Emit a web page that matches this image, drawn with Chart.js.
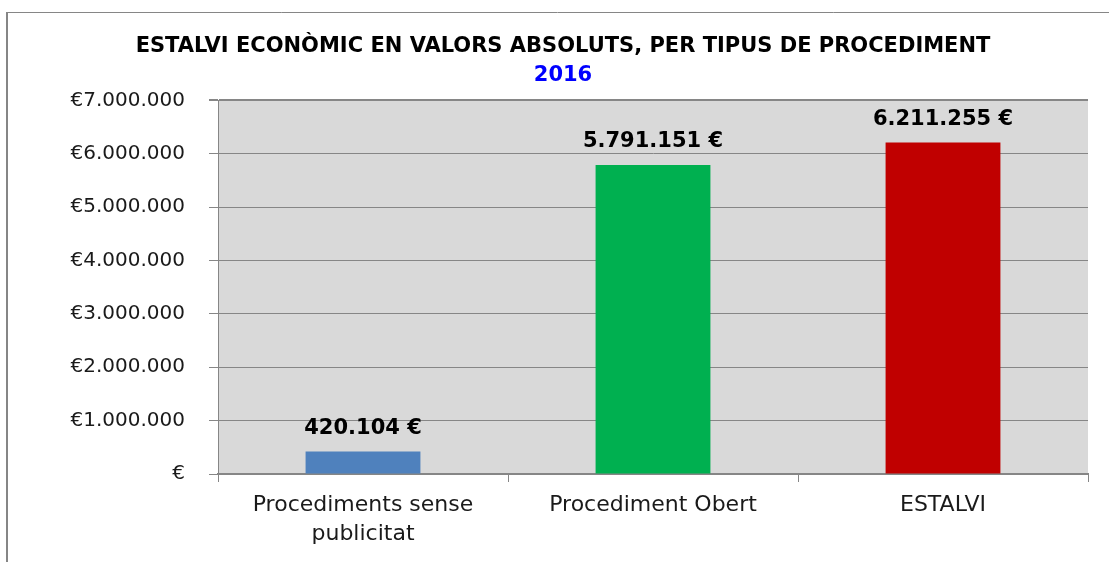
<!DOCTYPE html>
<html>
<head>
<meta charset="utf-8">
<script src="https://cdn.jsdelivr.net/npm/chart.js@4/dist/chart.umd.min.js"></script>
<style>
  html, body { margin: 0; padding: 0; background: #ffffff; }
  #wrap { width: 1109px; height: 562px; }
</style>
</head>
<body>
<div id="wrap"><canvas id="savingChart" width="1109" height="562"></canvas></div>
<script>
// Chart data
const categories = [['Procediments sense', 'publicitat'], 'Procediment Obert', 'ESTALVI'];
const savings = [420104, 5791151, 6211255];
const barColors = ['#4F81BD', '#00B050', '#C00000'];
const yTicks = [0, 1000000, 2000000, 3000000, 4000000, 5000000, 6000000, 7000000];

const FONT = "'DejaVu Sans', Verdana, sans-serif";
const LINE_GRAY = '#868686';

// Format a number with dots as thousands separator
function dotted(n) {
    return String(n).replace(/\B(?=(\d{3})+(?!\d))/g, '.');
}

// Gray plot background and the outer frame lines
const backgroundPlugin = {
    id: 'plotBackground',
    beforeDraw(chart) {
        const ctx = chart.ctx;
        const area = chart.chartArea;
        ctx.save();
        ctx.fillStyle = '#D9D9D9';
        ctx.fillRect(area.left, area.top, area.right - area.left, area.bottom - area.top);
        // frame: top and left edge only
        ctx.strokeStyle = LINE_GRAY;
        ctx.lineWidth = 2;
        ctx.beginPath();
        ctx.moveTo(7, 12);
        ctx.lineTo(7, chart.height);
        ctx.stroke();
        ctx.lineWidth = 1;
        ctx.beginPath();
        ctx.moveTo(6, 12.5);
        ctx.lineTo(chart.width, 12.5);
        ctx.stroke();
        ctx.restore();
    }
};

// Value labels above each bar
const valueLabels = {
    id: 'valueLabels',
    afterDatasetsDraw(chart) {
        const ctx = chart.ctx;
        const meta = chart.getDatasetMeta(0);
        ctx.save();
        ctx.font = 'bold 21px ' + FONT;
        ctx.fillStyle = '#000000';
        ctx.textAlign = 'center';
        ctx.textBaseline = 'middle';
        meta.data.forEach((bar, i) => {
            ctx.fillText(dotted(savings[i]) + ' \u20AC', bar.x, bar.y - 23);
        });
        ctx.restore();
    }
};

const ctx = document.getElementById('savingChart').getContext('2d');
new Chart(ctx, {
    type: 'bar',
    data: {
        labels: categories,
        datasets: [{
            data: savings,
            backgroundColor: barColors,
            borderWidth: 0,
            barPercentage: 0.396,
            categoryPercentage: 1.0
        }]
    },
    options: {
        responsive: false,
        animation: false,
        layout: {
            padding: { left: 38, right: 21, top: 0, bottom: 0 }
        },
        scales: {
            x: {
                grid: {
                    offset: true,
                    drawOnChartArea: false,
                    color: LINE_GRAY,
                    tickLength: 8
                },
                border: { color: LINE_GRAY, width: 2 },
                ticks: {
                    padding: 9,
                    color: '#1a1a1a',
                    font: { family: FONT, size: 22, lineHeight: 1.3 }
                },
                afterFit: function(scale) {
                    scale.height = 88;
                }
            },
            y: {
                min: 0,
                max: 7000000,
                afterBuildTicks: function(scale) {
                    scale.ticks = yTicks.map(v => ({ value: v }));
                },
                grid: {
                    color: LINE_GRAY,
                    lineWidth: c => (c.tick && c.tick.value === 7000000 ? 2 : 1),
                    tickLength: 9
                },
                border: { color: LINE_GRAY, width: 1 },
                ticks: {
                    padding: 24,
                    color: '#1a1a1a',
                    font: { family: FONT, size: 20 },
                    callback: function(value) {
                        return value === 0 ? '\u20AC' : '\u20AC' + dotted(value);
                    }
                },
                afterFit: function(scale) {
                    scale.width = 180;
                }
            }
        },
        plugins: {
            legend: { display: false },
            tooltip: { enabled: false },
            title: {
                display: true,
                text: 'ESTALVI ECONÒMIC EN VALORS ABSOLUTS, PER TIPUS DE PROCEDIMENT',
                color: '#000000',
                font: { family: FONT, size: 21, weight: 'bold', lineHeight: 1.2 },
                padding: { top: 34, bottom: 4 }
            },
            subtitle: {
                display: true,
                text: '2016',
                color: '#0000FF',
                font: { family: FONT, size: 21, weight: 'bold', lineHeight: 1.2 },
                padding: { top: 0, bottom: 12 }
            }
        }
    },
    plugins: [backgroundPlugin, valueLabels]
});
</script>
</body>
</html>
